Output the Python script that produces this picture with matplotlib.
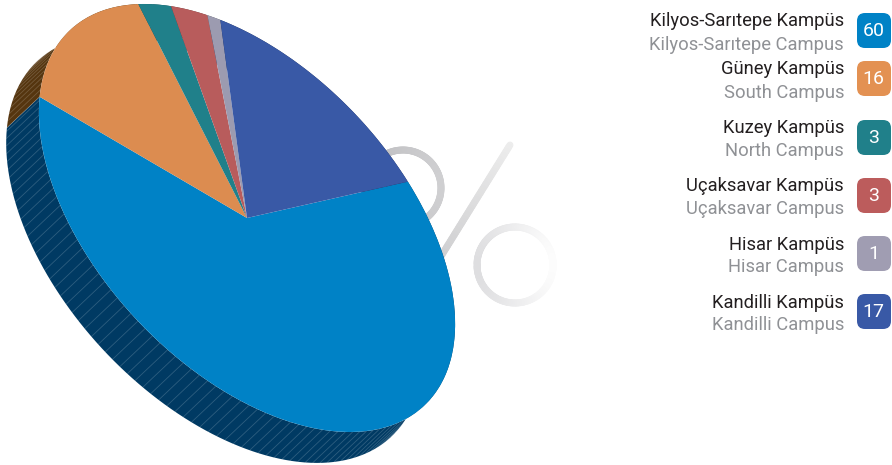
import matplotlib
matplotlib.use('Agg')
from matplotlib import pyplot as plt
from matplotlib.collections import LineCollection
from matplotlib.colors import LinearSegmentedColormap
from matplotlib.patches import FancyBboxPatch
from matplotlib.transforms import Affine2D
import numpy as np

plt.rcParams['font.family'] = ['Roboto', 'DejaVu Sans']

names_tr = ['Kilyos-Sarıtepe Kampüs', 'Güney Kampüs', 'Kuzey Kampüs',
            'Uçaksavar Kampüs', 'Hisar Kampüs', 'Kandilli Kampüs']
names_en = ['Kilyos-Sarıtepe Campus', 'South Campus', 'North Campus',
            'Uçaksavar Campus', 'Hisar Campus', 'Kandilli Campus']
# what the legend prints
labels = [60, 16, 3, 3, 1, 17]
# what the slices measure in the picture (the tilted pie is not quite to scale)
shares = [62.3, 14.9, 2.8, 2.9, 1.0, 16.1]
colors = ['#0082C6', '#DC8C50', '#20808A', '#B85C5C', '#9C9BB0', '#3959A6']
wall_colors = ['#003A63', '#55350F', '#104045', '#5C2E2E', '#4E4E58', '#1C2C53']
box_colors = ['#0082C6', '#E39152', '#20808A', '#BC5C5C', '#A09DB2', '#3959A6']

# legend layout, pixels
text_y_tr = [21.5, 68.5, 127.5, 185.5, 244.5, 302.5]
text_y_en = [44.5, 92.5, 150.5, 208.5, 266.5, 324.5]
box_top = [13, 61, 120, 178, 236, 294]

# the pie is a unit circle squashed and turned into an ellipse
center_x, center_y = 247, 218
semi_major, semi_minor = 258, 150
major_dir = (-0.687, -0.727)
minor_dir = (0.727, -0.687)
wall_depth = 45 / semi_minor
start_angle = 109

fig = plt.figure(figsize=(8.92, 4.65), dpi=100)
ax = fig.add_axes([0, 0, 1, 1])

tilt = Affine2D.from_values(semi_major * major_dir[0], semi_major * major_dir[1],
                            semi_minor * minor_dir[0], semi_minor * minor_dir[1],
                            center_x, center_y) + ax.transData

# percent sign behind the pie
def ring(cx, cy, r, color_from, color_to, zorder=1):
    t = np.linspace(0, 2 * np.pi, 200)
    xs, ys = cx + r * np.cos(t), cy + r * np.sin(t)
    segs = np.stack([np.c_[xs[:-1], ys[:-1]], np.c_[xs[1:], ys[1:]]], axis=1)
    cmap = LinearSegmentedColormap.from_list('ring', [color_from, color_to])
    lc = LineCollection(segs, cmap=cmap, linewidths=5.0, capstyle='round', zorder=zorder)
    lc.set_array((xs[:-1] - (cx - r)) / (2 * r))
    ax.add_collection(lc)

ring(403, 188, 38, '#BDBDC0', '#CFCFD1')
ring(515, 265, 38, '#DEDEE0', '#FCFCFC')
sx = np.linspace(510, 430, 60)
sy = np.linspace(145, 274, 60)
slash = LineCollection(np.stack([np.c_[sx[:-1], sy[:-1]], np.c_[sx[1:], sy[1:]]], axis=1),
                       cmap=LinearSegmentedColormap.from_list('slash', ['#EDEDED', '#CBCBCD']),
                       linewidths=5.0, capstyle='round', zorder=1)
slash.set_array(np.linspace(0, 1, 59))
ax.add_collection(slash)

# side wall, one band per slice, drawn before the top
edges = start_angle + np.cumsum([0] + shares) * 3.6
for i in range(len(shares)):
    t = np.radians(np.linspace(edges[i], edges[i + 1], 120))
    wall_x = np.r_[np.cos(t), np.cos(t)[::-1]]
    wall_y = np.r_[np.sin(t), np.sin(t)[::-1] - wall_depth]
    ax.fill(wall_x, wall_y, color=wall_colors[i], lw=0, transform=tilt, zorder=2)
    # thin pale lines running down the wall
    line_t = np.radians(np.arange(edges[i], edges[i + 1], 2.3))
    segs = [[(np.cos(a), np.sin(a)), (np.cos(a), np.sin(a) - wall_depth)] for a in line_t]
    ax.add_collection(LineCollection(segs, colors='white', alpha=0.18, linewidths=0.6,
                                     transform=tilt, zorder=3))

wedges, _ = ax.pie(shares, colors=colors, startangle=start_angle, counterclock=True,
                   wedgeprops={'linewidth': 0})
for w in wedges:
    w.set_transform(tilt)
    w.set_zorder(4)

ax.set_aspect('auto')
ax.set_xlim(0, 892)
ax.set_ylim(465, 0)
ax.axis('off')

# legend
for i in range(len(names_tr)):
    ax.text(844, text_y_tr[i], names_tr[i], ha='right', va='center', fontsize=13.2,
            color='#231F20', zorder=5)
    ax.text(844, text_y_en[i], names_en[i], ha='right', va='center', fontsize=13.2,
            color='#8F9195', zorder=5)
    ax.add_patch(FancyBboxPatch((864, box_top[i] + 7), 20, 21,
                                boxstyle='round,pad=7,rounding_size=8',
                                facecolor=box_colors[i], edgecolor='none', zorder=5))
    ax.text(873.5, box_top[i] + 18, str(labels[i]), ha='center', va='center', fontsize=14,
            color='white', zorder=6)

fig.savefig('out.png', dpi=100)
